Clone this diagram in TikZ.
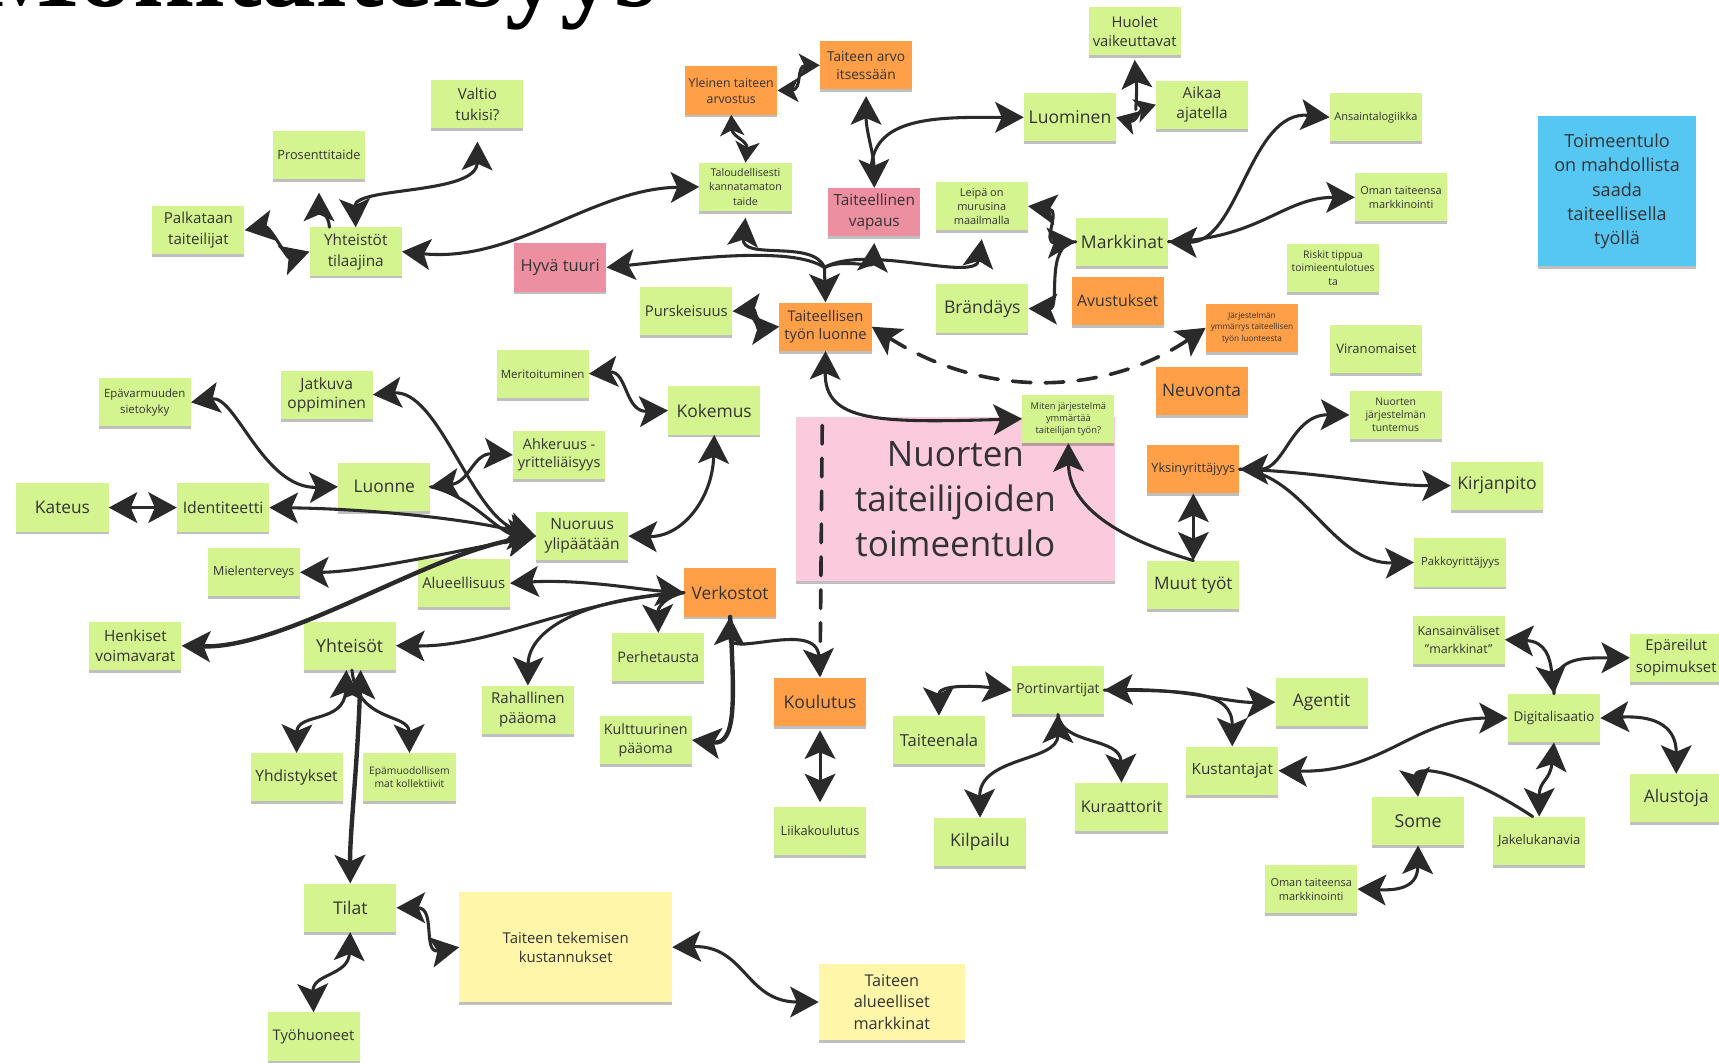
\documentclass[tikz,border=0pt]{standalone}
\usepackage{fontspec}
\setmainfont{Open Sans}
\newfontfamily\titlefont{Liberation Serif}
\usetikzlibrary{arrows.meta,shadows}
\definecolor{gr}{HTML}{D4F48F}
\definecolor{orn}{HTML}{FFA048}
\definecolor{pnk}{HTML}{EC8FA1}
\definecolor{lpk}{HTML}{FBCBDD}
\definecolor{ylw}{HTML}{FFF6A9}
\definecolor{blu}{HTML}{56C6F2}
\definecolor{ink}{HTML}{2A2A2A}
\definecolor{txt}{HTML}{333333}
\newcommand\fsz[2]{\fontsize{#1}{#2}\selectfont}
\begin{document}
\begin{tikzpicture}[x=1pt,y=-1pt,
  note/.style={rectangle,draw=none,fill=#1,minimum width=84pt,minimum height=44pt,inner sep=1pt,align=center,text=txt,
    drop shadow={shadow xshift=0pt,shadow yshift=-2.5pt,opacity=0.25,fill=black}},
  con/.style={draw=ink,line width=2.8pt,line cap=round,line join=round},
  thickcon/.style={con,line width=4pt},
  dashcon/.style={con,line width=3.3pt,dash pattern=on 17pt off 13pt},
  both/.style={arrows={Stealth[length=26pt,width=28pt,inset=6pt]-Stealth[length=26pt,width=28pt,inset=6pt]}},
  fwd/.style={arrows={-Stealth[length=26pt,width=28pt,inset=6pt]}},
  bwd/.style={arrows={Stealth[length=26pt,width=28pt,inset=6pt]-}},
  sboth/.style={arrows={Stealth[length=19pt,width=22pt,inset=5pt]-Stealth[length=19pt,width=22pt,inset=5pt]}}]
\useasboundingbox (0,0) rectangle (1568,969);
\fill[white] (0,0) rectangle (1568,969);
\node[anchor=base east,inner sep=0pt,font=\titlefont\bfseries\fsz{100}{100},text=black] (title) at (600,6) {Monitaiteisyys};
% ---- notes
\node[note=gr,font=\fsz{13.8}{19}] (valtio) at (435.5,95) {Valtio\\tukisi?};
\node[note=gr,font=\fsz{11.6}{15}] (prosentti) at (291,141.5) {Prosenttitaide};
\node[note=gr,font=\fsz{13.8}{19}] (palkataan) at (181,210) {Palkataan\\taiteilijat};
\node[note=gr,font=\fsz{14}{19}] (yhteistot) at (324.5,229.5) {Yhteistöt\\tilaajina};
\node[note=pnk,font=\fsz{15}{19}] (hyva) at (511,244) {Hyvä tuuri};
\node[note=gr,font=\fsz{9.7}{13}] (talous) at (680,170.5) {Taloudellisesti\\kannatamaton\\taide};
\node[note=orn,font=\fsz{11.2}{14.6}] (yleinen) at (667,82.5) {Yleinen taiteen\\arvostus};
\node[note=orn,font=\fsz{12.5}{16.7}] (arvo) at (790,59.5) {Taiteen arvo\\itsessään};
\node[note=pnk,font=\fsz{14}{19.8}] (vapaus) at (797.5,193.5) {Taiteellinen\\vapaus};
\node[note=gr,font=\fsz{10}{12.8}] (leipa) at (895.5,188) {Leipä on\\murusina\\maailmalla};
\node[note=gr,font=\fsz{16}{20}] (luominen) at (976,107) {Luominen};
\node[note=gr,font=\fsz{13.5}{17.3}] (huolet) at (1035,28.5) {Huolet\\vaikeuttavat};
\node[note=gr,font=\fsz{14}{18}] (aikaa) at (1096.5,95.5) {Aikaa\\ajatella};
\node[note=gr,font=\fsz{16}{20}] (markkinat) at (1023.5,220.5) {Markkinat};
\node[note=gr,font=\fsz{16}{20}] (brandays) at (896,281.5) {Brändäys};
\node[note=orn,font=\fsz{14.5}{19}] (avustukset) at (1019.5,274.5) {Avustukset};
\node[note=orn,font=\fsz{13.4}{16.7}] (tyo) at (753,298) {Taiteellisen\\työn luonne};
\node[note=gr,font=\fsz{13.5}{18}] (purske) at (626,284) {Purskeisuus};
\node[note=orn,font=\fsz{7.5}{10.3}] (jarj) at (1142,299) {Järjestelmän\\ymmärrys taiteellisen\\työn luonteesta};
\node[note=gr,font=\fsz{10}{13}] (ansainta) at (1255,107) {Ansaintalogiikka};
\node[note=gr,font=\fsz{10}{12.8}] (oman1) at (1278,180) {Oman taiteensa\\markkinointi};
\node[note=gr,font=\fsz{9.5}{12}] (riskit) at (1216,244.5) {Riskit tippua\\toimieentulotues\\ta};
\node[note=gr,font=\fsz{11.9}{15}] (viran) at (1255.5,318.5) {Viranomaiset};
\node[note=blu,minimum width=144pt,minimum height=137pt,font=\fsz{16.5}{22}] (blue) at (1475,174.5) {Toimeentulo\\on mahdollista\\saada\\taiteellisella\\työllä};
\node[note=orn,font=\fsz{15.8}{20}] (neuvonta) at (1096,356.5) {Neuvonta};
\node[note=lpk,minimum width=291pt,minimum height=150pt,font=\fsz{32}{41}] (center) at (871.5,455) {Nuorten\\taiteilijoiden\\toimeentulo};
\node[note=gr,font=\fsz{8.5}{11}] (miten) at (974.5,382) {Miten järjestelmä\\ymmärtää\\taiteilijan työn?};
\node[note=orn,font=\fsz{11.6}{15}] (yksin) at (1088.5,428) {Yksinyrittäjyys};
\node[note=gr,font=\fsz{9.5}{12.2}] (nuortenj) at (1273,378.5) {Nuorten\\järjestelmän\\tuntemus};
\node[note=gr,font=\fsz{16}{20}] (kirjan) at (1365.5,443) {Kirjanpito};
\node[note=gr,font=\fsz{10.3}{13}] (pakko) at (1332,513) {Pakkoyrittäjyys};
\node[note=gr,font=\fsz{15.7}{20}] (muut) at (1088.5,533.5) {Muut työt};
\node[note=gr,font=\fsz{10.4}{14.3}] (epavarm) at (132,367) {Epävarmuuden\\sietokyky};
\node[note=gr,font=\fsz{14.2}{17.3}] (jatkuva) at (298,360) {Jatkuva\\oppiminen};
\node[note=gr,font=\fsz{10.5}{13}] (merit) at (495,341) {Meritoituminen};
\node[note=gr,font=\fsz{15.9}{20}] (kokemus) at (651.5,374.5) {Kokemus};
\node[note=gr,font=\fsz{13.2}{16.7}] (ahkeruus) at (510,415) {Ahkeruus -\\yritteliäisyys};
\node[note=gr,font=\fsz{15.9}{20}] (luonne) at (350.5,444) {Luonne};
\node[note=gr,font=\fsz{15.8}{20}] (kateus) at (57,463) {Kateus};
\node[note=gr,font=\fsz{14.4}{18}] (ident) at (203.5,463) {Identiteetti};
\node[note=gr,font=\fsz{14.2}{18.2}] (nuoruus) at (531,489) {Nuoruus\\ylipäätään};
\node[note=gr,font=\fsz{11.4}{15}] (mielen) at (231.5,522) {Mielenterveys};
\node[note=gr,font=\fsz{13.6}{17}] (alue) at (423,532) {Alueellisuus};
\node[note=gr,font=\fsz{14}{18.2}] (henkiset) at (123.5,589) {Henkiset\\voimavarat};
\node[note=gr,font=\fsz{16.2}{20}] (yhteisot) at (319,589) {Yhteisöt};
\node[note=orn,font=\fsz{15.8}{20}] (verkostot) at (666,540.5) {Verkostot};
\node[note=gr,font=\fsz{13.2}{17}] (perhe) at (600.5,599.5) {Perhetausta};
\node[note=gr,font=\fsz{13.7}{18.2}] (rahal) at (481.5,647.5) {Rahallinen\\pääoma};
\node[note=gr,font=\fsz{13}{17.6}] (kultt) at (589,675) {Kulttuurinen\\pääoma};
\node[note=gr,font=\fsz{14.2}{18}] (yhdist) at (270.5,709) {Yhdistykset};
\node[note=gr,font=\fsz{9.4}{12.2}] (epamuod) at (373.5,709) {Epämuodollisem\\mat kollektiivit};
\node[note=gr,font=\fsz{16}{20}] (tilat) at (319.5,828) {Tilat};
\node[note=ylw,minimum width=194pt,minimum height=100pt,font=\fsz{13.6}{17.3}] (kustannukset) at (516,864) {Taiteen tekemisen\\kustannukset};
\node[note=gr,font=\fsz{13.4}{17}] (tyohuoneet) at (286,945.5) {Työhuoneet};
\node[note=orn,font=\fsz{16}{20}] (koulutus) at (748,640) {Koulutus};
\node[note=gr,font=\fsz{11.7}{15}] (liika) at (748,758) {Liikakoulutus};
\node[note=gr,font=\fsz{15.1}{19}] (taiteenala) at (856.5,675) {Taiteenala};
\node[note=gr,font=\fsz{12.5}{16}] (portin) at (965,629.5) {Portinvartijat};
\node[note=gr,font=\fsz{16}{20}] (kilpailu) at (894,768) {Kilpailu};
\node[note=gr,font=\fsz{14.7}{19}] (kuraatt) at (1023,736) {Kuraattorit};
\node[note=ylw,minimum width=133pt,minimum height=70pt,font=\fsz{14.8}{19.8}] (markkinat2) at (813.5,914) {Taiteen\\alueelliset\\markkinat};
\node[note=gr,font=\fsz{15.8}{20}] (agentit) at (1205.5,640.5) {Agentit};
\node[note=gr,font=\fsz{14}{18}] (kustantajat) at (1124,703) {Kustantajat};
\node[note=gr,font=\fsz{11.3}{15.8}] (kansainv) at (1330.5,583.5) {Kansainväliset\\”markkinat”};
\node[note=gr,font=\fsz{13.6}{19.8}] (epareilut) at (1529,600) {Epäreilut\\sopimukset};
\node[note=gr,font=\fsz{12.3}{16}] (digi) at (1417.5,655) {Digitalisaatio};
\node[note=gr,font=\fsz{15.8}{20}] (alustoja) at (1529,728) {Alustoja};
\node[note=gr,font=\fsz{16.2}{20}] (some) at (1293.5,749) {Some};
\node[note=gr,font=\fsz{11.9}{15}] (jakelu) at (1404,767) {Jakelukanavia};
\node[note=gr,font=\fsz{10}{12.8}] (oman2) at (1196,811) {Oman taiteensa\\markkinointi};
% ---- helper points
\coordinate (hub) at (752,244);
\coordinate (lp) at (795,150);
\coordinate (la) at (1036,100);
\coordinate (dtop) at (750,388);
% ---- connectors top-left
\draw[con,both] (yhteistot.west) .. controls (262,236) and (246,206) .. (palkataan.east);
\draw[con,fwd] ([xshift=-24pt]yhteistot.north) .. controls (300,195) and (291,192) .. ([yshift=-12pt]prosentti.south);
\draw[con,both] (yhteistot.north) .. controls (323,170) and (435,178) .. ([yshift=-12pt]valtio.south);
\draw[con,both] (yhteistot.east) .. controls (470,240) and (540,172) .. (talous.west);
% ---- hub
\draw[con,fwd] (hub) -- (tyo.north);
\draw[con,fwd] (hub) .. controls (722,224) and (630,236) .. (hyva.east);
\draw[con,fwd] (hub) .. controls (742,218) and (676,238) .. ([yshift=-6pt]talous.south);
\draw[con,fwd] (hub) .. controls (768,236) and (796,244) .. ([yshift=-6pt]vapaus.south);
\draw[con,fwd] (hub) .. controls (790,222) and (890,258) .. ([yshift=-8pt]leipa.south);
% ---- top middle
\draw[con,sboth] (yleinen.south) .. controls (668,125) and (682,128) .. (talous.north);
\draw[con,sboth] (yleinen.east) .. controls (732,82) and (726,60) .. (arvo.west);
\draw[con,both] ([yshift=-6pt]arvo.south) .. controls (790,120) and (797,140) .. (vapaus.north);
\draw[con,fwd] (lp) .. controls (800,105) and (860,107) .. (luominen.west);
\draw[con,fwd] (la) .. controls (1037,80) .. ([yshift=-4pt]huolet.south);
\draw[con,sboth] (luominen.east) .. controls (1036,112) and (1040,100) .. (aikaa.west);
\draw[con,both] (markkinat.east) .. controls (1130,222) and (1140,100) .. (ansainta.west);
\draw[con,fwd] (markkinat.east) .. controls (1150,218) and (1170,180) .. (oman1.west);
\draw[con,both] (leipa.east) .. controls (968,192) and (950,222) .. (markkinat.west);
\draw[con,fwd] (markkinat.west) .. controls (952,222) and (968,282) .. (brandays.east);
\draw[con,both] (purske.east) .. controls (690,282) and (690,300) .. (tyo.west);
\draw[dashcon,both] (tyo.east) .. controls (900,365) and (1010,360) .. (jarj.west);
\draw[dashcon] (dtop) -- (koulutus.north);
\draw[con,both] (tyo.south) .. controls (752,385) and (800,386) .. (miten.west);
% ---- right middle
\draw[con,bwd] (miten.south) .. controls (975,470) and (1040,497) .. (muut.north);
\draw[con,both] (yksin.south) -- (muut.north);
\draw[con,both] (yksin.east) .. controls (1172,428) and (1178,378) .. (nuortenj.west);
\draw[con,fwd] (yksin.east) .. controls (1200,430) and (1260,443) .. (kirjan.west);
\draw[con,fwd] (yksin.east) .. controls (1190,432) and (1215,515) .. (pakko.west);
% ---- left middle
\draw[con,both] (epavarm.east) .. controls (215,360) and (240,446) .. (luonne.west);
\draw[con,both] (jatkuva.east) .. controls (400,355) and (430,470) .. (nuoruus.west);
\draw[con,both] (merit.east) .. controls (572,338) and (570,376) .. (kokemus.west);
\draw[con,both] (luonne.east) .. controls (428,440) and (432,413) .. (ahkeruus.west);
\draw[con,fwd] (luonne.east) .. controls (430,452) and (455,487) .. (nuoruus.west);
\draw[con,both] (kateus.east) -- (ident.west);
\draw[con,both] (ident.east) .. controls (330,464) and (420,472) .. (nuoruus.west);
\draw[con,both] (nuoruus.west) .. controls (420,502) and (330,522) .. (mielen.east);
\draw[thickcon,both] (nuoruus.west) .. controls (390,505) and (260,592) .. (henkiset.east);
\draw[con,both] (kokemus.south) .. controls (650,455) and (622,490) .. (nuoruus.east);
\draw[con,both] (alue.east) .. controls (530,528) and (585,538) .. (verkostot.west);
\draw[con,fwd] (verkostot.west) .. controls (520,548) and (450,590) .. (yhteisot.east);
\draw[con,fwd] (verkostot.west) .. controls (530,546) and (482,575) .. (rahal.north);
\draw[con,fwd] (verkostot.west) .. controls (605,545) and (600,555) .. (perhe.north);
\draw[con,both] (verkostot.south) .. controls (665,600) and (745,565) .. (koulutus.north);
\draw[thickcon,fwd] (verkostot.south) .. controls (670,640) and (672,680) .. (kultt.east);
\draw[con,both] ([yshift=-4pt]koulutus.south) -- ([yshift=4pt]liika.north);
% ---- bottom left
\draw[con,both] ([xshift=-3pt]yhteisot.south) .. controls (314,660) and (271,650) .. (yhdist.north);
\draw[con,fwd] ([xshift=2pt]yhteisot.south) .. controls (326,660) and (373,650) .. (epamuod.north);
\draw[thickcon,both] ([xshift=10pt]yhteisot.south) .. controls (326,700) and (319,760) .. (tilat.north);
\draw[con,both] (tilat.east) .. controls (398,828) and (385,870) .. (kustannukset.west);
\draw[con,both] (tilat.south) .. controls (318,890) and (285,888) .. (tyohuoneet.north);
\draw[con,both] (kustannukset.east) .. controls (680,862) and (680,914) .. (markkinat2.west);
% ---- bottom right
\draw[con,both] (taiteenala.north) .. controls (856,625) and (885,625) .. (portin.west);
\draw[con,both] (portin.south) .. controls (965,695) and (893,690) .. (kilpailu.north);
\draw[con,fwd] (portin.south) .. controls (968,680) and (1022,672) .. (kuraatt.north);
\draw[con,both] (portin.east) .. controls (1080,628) and (1120,641) .. (agentit.west);
\draw[con,fwd] (portin.east) .. controls (1085,630) and (1124,630) .. (kustantajat.north);
\draw[con,both] (kustantajat.east) .. controls (1262,705) and (1290,655) .. (digi.west);
\draw[con,both] (kansainv.east) .. controls (1410,585) and (1414,600) .. (digi.north);
\draw[con,fwd] (digi.north) .. controls (1416,600) and (1440,600) .. (epareilut.west);
\draw[con,both] (digi.east) .. controls (1522,652) and (1529,672) .. (alustoja.north);
\draw[con,both] (digi.south) .. controls (1414,712) and (1404,712) .. (jakelu.north);
\draw[con,bwd] (some.north) .. controls (1290,698) and (1330,700) .. ([xshift=-6pt]jakelu.north);
\draw[con,both] (some.south) .. controls (1293,812) and (1270,812) .. (oman2.east);
\end{tikzpicture}
\end{document}
